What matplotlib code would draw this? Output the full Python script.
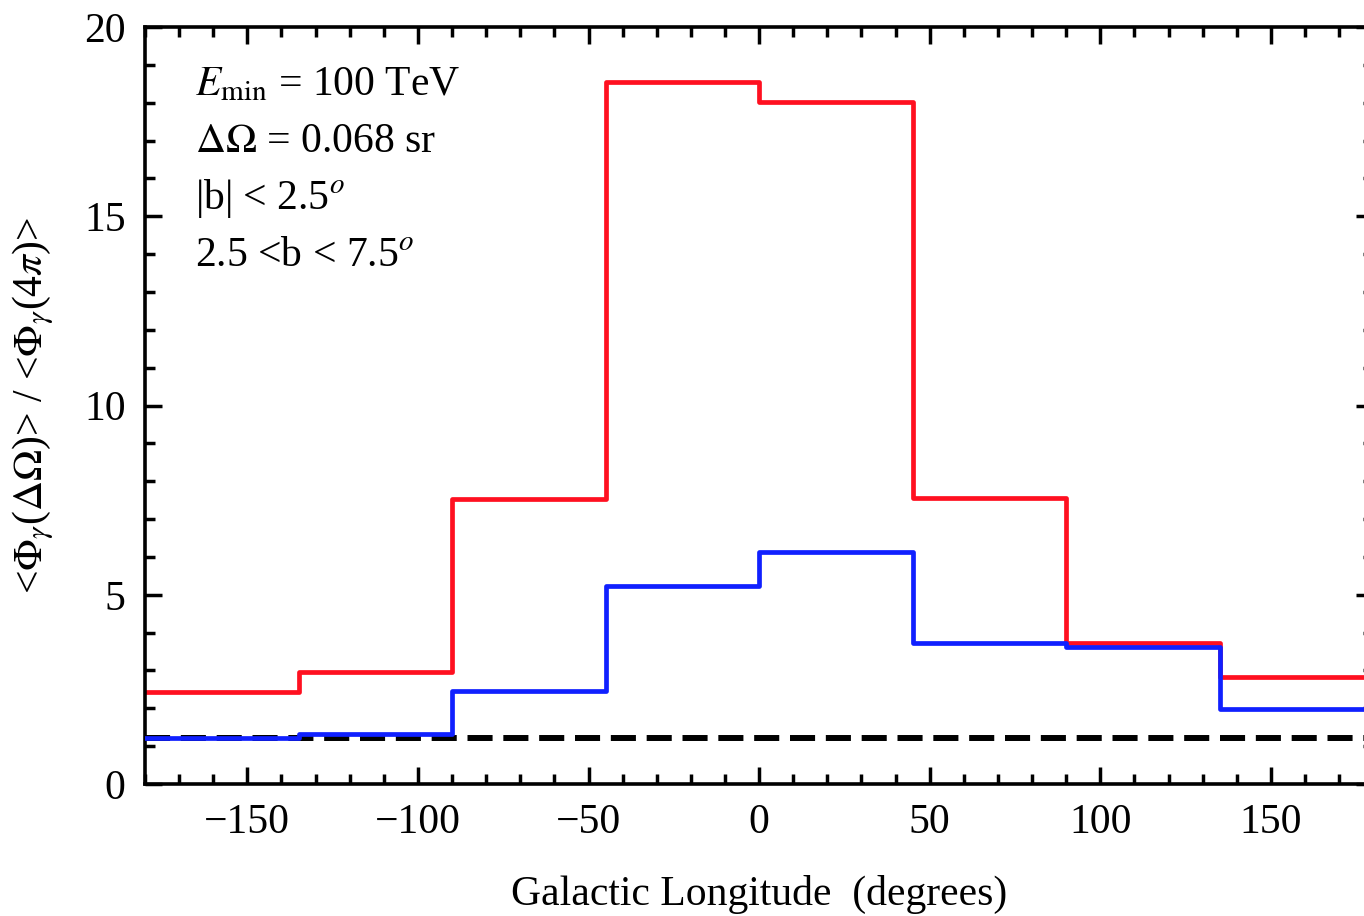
import numpy as np
import matplotlib
matplotlib.use("Agg")
import matplotlib.pyplot as plt
from matplotlib.ticker import MultipleLocator

plt.rcParams['font.family'] = ['Liberation Serif', 'DejaVu Serif']
plt.rcParams['mathtext.fontset'] = 'stix'

# Longitude bin edges (degrees) and flux ratios per bin
bin_edges = [-180, -135, -90, -45, 0, 45, 90, 135, 180]
ratio_low_b = [2.42, 2.95, 7.53, 18.55, 18.02, 7.56, 3.73, 2.82]   # |b| < 2.5
ratio_high_b = [1.22, 1.31, 2.46, 5.22, 6.12, 3.72, 3.63, 1.99]    # 2.5 < b < 7.5
isotropic_level = 1.22

x_ticks = [-150, -100, -50, 0, 50, 100, 150]
y_ticks = [0, 5, 10, 15, 20]

fig = plt.figure(figsize=(13.64, 9.16), dpi=100)
ax = fig.add_axes([0.1063, 0.1441, 0.9005, 0.8264])

def step_xy(edges, vals):
    xs = np.repeat(edges, 2)[1:-1]
    ys = np.repeat(vals, 2)
    return xs, ys

xr, yr = step_xy(bin_edges, ratio_low_b)
xb, yb = step_xy(bin_edges, ratio_high_b)

ax.axhline(isotropic_level, color='black', lw=4.3, dashes=(4.2, 1.8), zorder=1)
ax.plot(xr, yr, color='#ff1020', lw=3.4, zorder=2)
ax.plot(xb, yb, color='#1020ff', lw=3.4, zorder=3)

ax.set_xlim(-180, 180)
ax.set_ylim(0, 20)
ax.set_xticks(x_ticks)
ax.set_yticks(y_ticks)
ax.set_xticklabels([f'\u2212{abs(t)}' if t < 0 else str(t) for t in x_ticks])
ax.xaxis.set_minor_locator(MultipleLocator(10))
ax.yaxis.set_minor_locator(MultipleLocator(1))
ax.tick_params(which='both', direction='in', top=True, right=True, width=2.5,
               labelsize=30, pad=14)
ax.tick_params(which='major', length=12)
ax.tick_params(which='minor', length=7)
for sp in ax.spines.values():
    sp.set_linewidth(2.6)

ax.set_xlabel('Galactic Longitude  (degrees)', fontsize=30, labelpad=24)
ax.set_ylabel(r'<$\Phi_\gamma$($\Delta\Omega$)> / <$\Phi_\gamma$(4$\pi$)>',
              fontsize=30, labelpad=20)

notes = [r'$E_{\rm min}$ = 100 TeV',
         r'$\Delta\Omega$ = 0.068 sr',
         r'|b| < 2.5$^o$',
         r'2.5 <b < 7.5$^o$']
for i, s in enumerate(notes):
    ax.text(0.041, 0.923 - i * 0.075, s, transform=ax.transAxes,
            fontsize=30, va='center', ha='left')

fig.savefig('out.png', dpi=100)
